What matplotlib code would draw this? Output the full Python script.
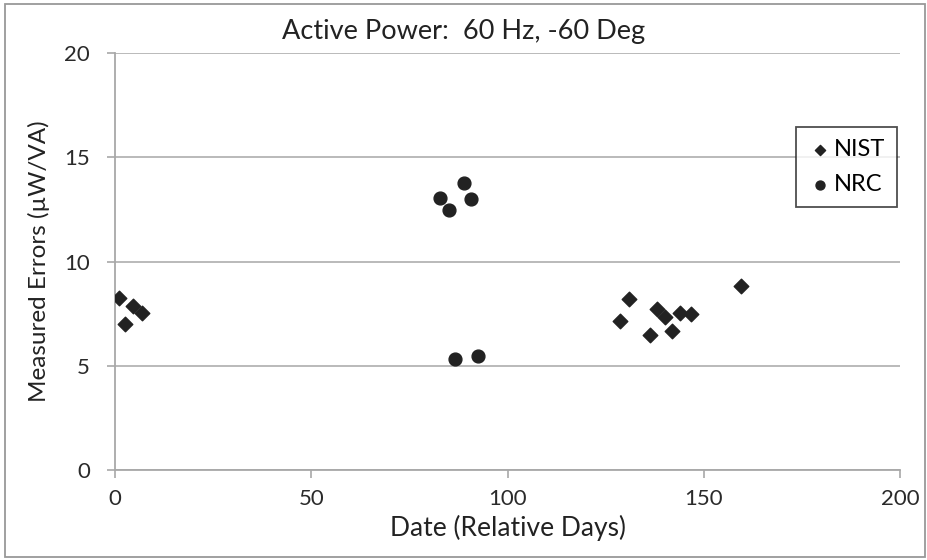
import numpy as np
import matplotlib.pyplot as plt

plt.rcParams['font.family'] = ['Lato', 'DejaVu Sans']

# NIST measurements (relative day, error in uW/VA)
nist_days = [0.9, 2.6, 4.7, 7.0, 128.6, 131.0, 136.2, 138.1, 140.0, 141.8, 143.9, 146.8, 159.6]
nist_err  = [8.23, 6.99, 7.88, 7.51, 7.15, 8.2, 6.47, 7.72, 7.32, 6.67, 7.55, 7.48, 8.84]

# NRC measurements
nrc_days = [82.7, 85.0, 86.7, 89.0, 90.8, 92.6]
nrc_err  = [13.06, 12.45, 5.34, 13.77, 12.98, 5.45]

fig = plt.figure(figsize=(9.27, 5.6), dpi=100)
ax = fig.add_axes([115/927, 1 - 470/560, (900-115)/927, (470-53)/560])

ax.scatter(nist_days, nist_err, marker='D', s=55, color='#222222', label='NIST', zorder=3)
ax.scatter(nrc_days, nrc_err, marker='o', s=85, color='#222222', label='NRC', zorder=3)

ax.set_xlim(0, 200)
ax.set_ylim(0, 20)
ax.set_xticks([0, 50, 100, 150, 200])
ax.set_yticks([0, 5, 10, 15, 20])
ax.yaxis.grid(True, color='#b4b4b4', linewidth=1.3)
ax.set_axisbelow(True)
for s in ['top', 'right']:
	ax.spines[s].set_visible(False)
for s in ['left', 'bottom']:
	ax.spines[s].set_color('#a8a8a8')
	ax.spines[s].set_linewidth(1.3)
ax.tick_params(axis='both', labelsize=16, length=6, width=1.2, colors='#a8a8a8', labelcolor='#2a2a2a')
ax.tick_params(axis='y', pad=12)
ax.tick_params(axis='x', pad=8)

ax.set_xlabel('Date (Relative Days)', fontsize=19, color='#222222', labelpad=4)
ax.set_ylabel('Measured Errors (µW/VA)', fontsize=17.5, color='#222222', labelpad=10)
fig.text(0.5, 1 - 32/560, 'Active Power:  60 Hz, -60 Deg', ha='center', va='center',
	fontsize=19.5, color='#222222')

leg = ax.legend(loc='upper left', bbox_to_anchor=((796-115)/785, (470-127)/417),
	fontsize=17, frameon=True, fancybox=False, edgecolor='#222222',
	handletextpad=0.1, handlelength=1.0, labelspacing=0.6, borderpad=0.5,
	borderaxespad=0, markerscale=0.7)
leg.get_frame().set_linewidth(1.3)

# outer border
fig.patches.append(plt.Rectangle((5/927, 3/560), 920/927, 553/560, transform=fig.transFigure,
	fill=False, edgecolor='#999999', linewidth=1.3))

fig.savefig('out.png', dpi=100)
